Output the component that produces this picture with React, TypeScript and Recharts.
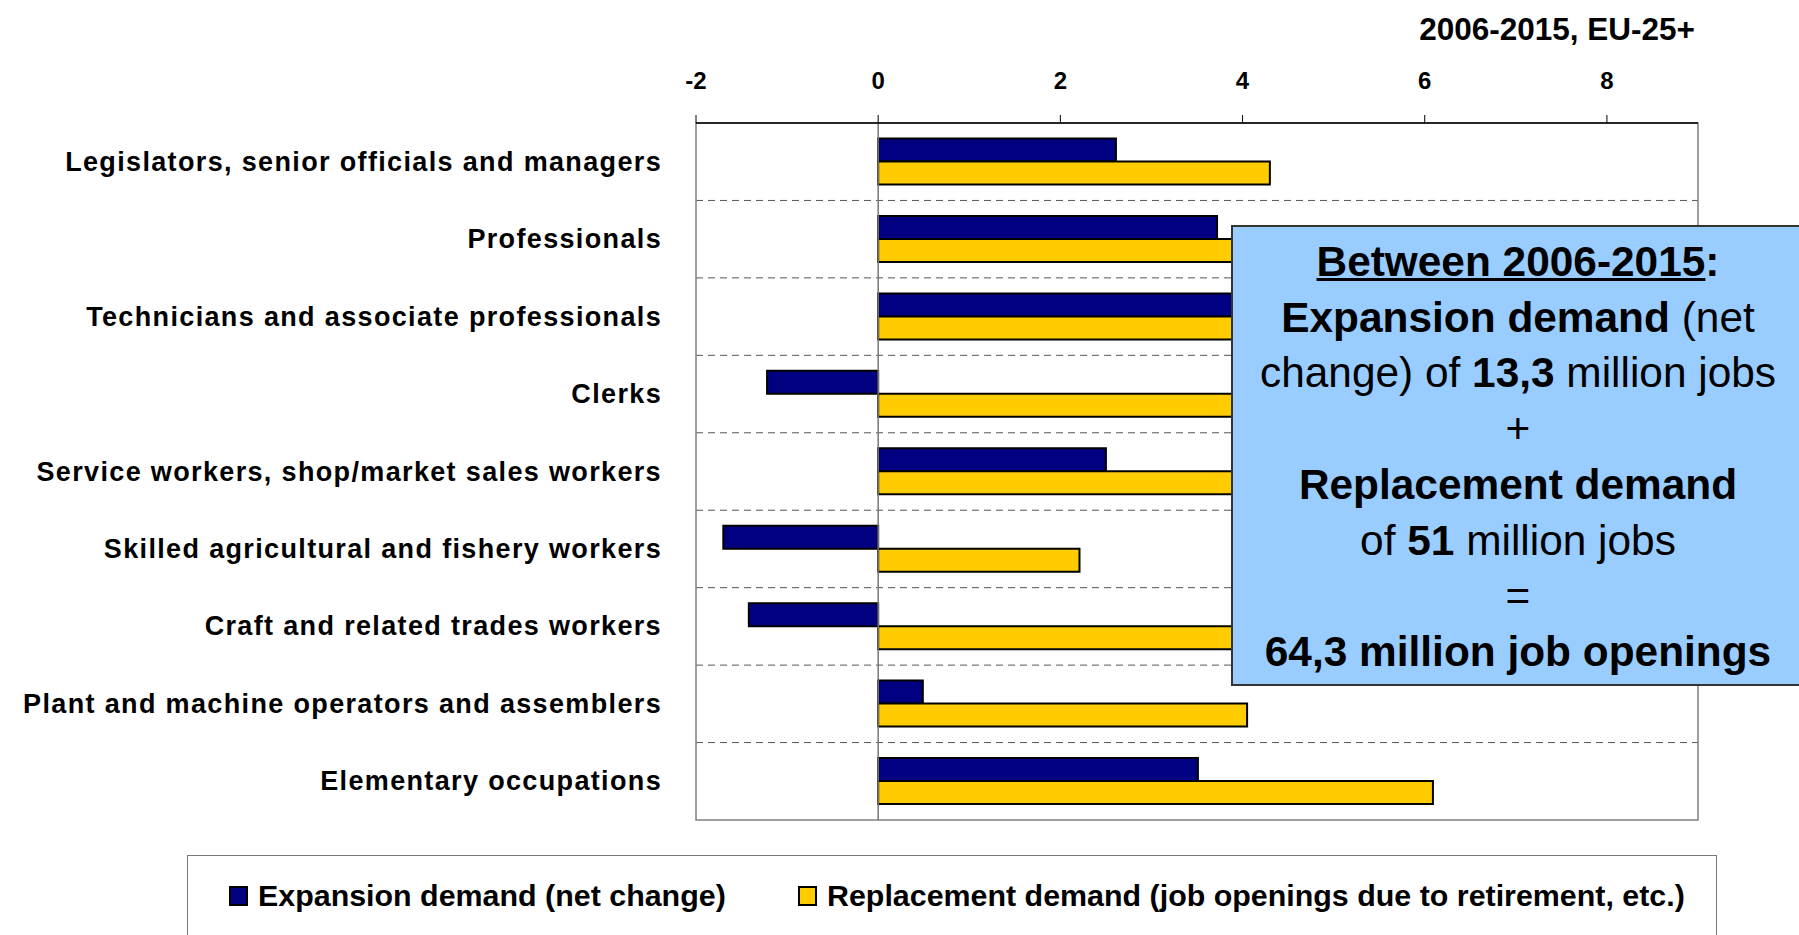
import React from "react";
import {
  BarChart,
  Bar,
  XAxis,
  YAxis,
  CartesianGrid,
  ReferenceLine,
  ReferenceArea,
  Legend,
} from "recharts";

// occupation groups, top to bottom
const occupations = [
  "Legislators, senior officials and managers",
  "Professionals",
  "Technicians and associate professionals",
  "Clerks",
  "Service workers, shop/market sales workers",
  "Skilled agricultural and fishery workers",
  "Craft and related trades workers",
  "Plant and machine operators and assemblers",
  "Elementary occupations",
];

// million jobs, 2006-2015
const expansionDemand = [2.61, 3.72, 4.8, -1.22, 2.5, -1.7, -1.42, 0.49, 3.51];
const replacementDemand = [4.3, 6.5, 7.2, 6.6, 7.3, 2.21, 6.75, 4.05, 6.09];

const xTicks = [-2, 0, 2, 4, 6, 8];

const seriesNames = {
  expansion: "Expansion demand (net change)",
  replacement: "Replacement demand (job openings due to retirement, etc.)",
};

const data = occupations.map((name, i) => ({
  name,
  expansion: expansionDemand[i],
  replacement: replacementDemand[i],
}));

const FONT = "'Liberation Sans', Arial, sans-serif";

const CategoryTick = (props: any) => {
  const { x, y, payload } = props;
  return (
    <text
      x={x}
      y={y}
      dy={9}
      textAnchor="end"
      fontFamily={FONT}
      fontWeight="bold"
      fontSize={27}
      letterSpacing={1.35}
      fill="#000"
    >
      {payload.value}
    </text>
  );
};

const LegendBox = (props: any) => {
  const items = props.payload || [];
  const offsets = [41, 610];
  return (
    <div
      style={{
        position: "relative",
        width: 1530,
        height: 100,
        border: "1.5px solid #777",
        boxSizing: "border-box",
        background: "#fff",
      }}
    >
      {items.map((it: any, i: number) => (
        <div
          key={it.value}
          style={{
            position: "absolute",
            left: offsets[i],
            top: 22,
            display: "flex",
            alignItems: "center",
            fontFamily: FONT,
            fontWeight: "bold",
            fontSize: 30.4,
            whiteSpace: "nowrap",
          }}
        >
          <span
            style={{
              display: "inline-block",
              width: 15,
              height: 16,
              background: it.color,
              border: "2px solid #000",
              marginRight: 10,
            }}
          />
          {it.value}
        </div>
      ))}
    </div>
  );
};

export default function App() {
  return (
    <div
      style={{
        position: "absolute",
        left: 0,
        top: 0,
        width: 1799,
        height: 935,
        overflow: "hidden",
        background: "#fff",
      }}
    >
      <BarChart
        width={1799}
        height={935}
        data={data}
        layout="vertical"
        margin={{ top: 63, right: 101, bottom: 115, left: 0 }}
        barCategoryGap="20%"
        barGap={0}
      >
        <CartesianGrid
          vertical={false}
          stroke="#555"
          strokeDasharray="7 5"
          horizontalCoordinatesGenerator={({ offset }: any) =>
            occupations
              .slice(1)
              .map((_, i) => offset.top + ((i + 1) * offset.height) / occupations.length)
          }
        />
        <ReferenceArea x1={-2} x2={9} fill="none" stroke="#808080" strokeWidth={1.5} />
        <ReferenceLine x={0} stroke="#777" strokeWidth={1.5} />
        <XAxis
          type="number"
          orientation="top"
          domain={[-2, 9]}
          ticks={xTicks}
          height={60}
          allowDataOverflow
          axisLine={{ stroke: "#000", strokeWidth: 1.5 }}
          tickLine={{ stroke: "#000" }}
          tickSize={8}
          tickMargin={26}
          tick={{ fontFamily: FONT, fontWeight: "bold", fontSize: 24, fill: "#000" }}
        />
        <YAxis
          type="category"
          dataKey="name"
          width={696}
          axisLine={false}
          tickLine={false}
          tickSize={0}
          tickMargin={34}
          interval={0}
          tick={<CategoryTick />}
        />
        <Bar
          dataKey="expansion"
          name={seriesNames.expansion}
          fill="#000080"
          stroke="#000"
          strokeWidth={2}
          isAnimationActive={false}
        />
        <Bar
          dataKey="replacement"
          name={seriesNames.replacement}
          fill="#FFCC00"
          stroke="#000"
          strokeWidth={2}
          isAnimationActive={false}
        />
        <Legend
          layout="horizontal"
          verticalAlign="middle"
          align="center"
          content={<LegendBox />}
          wrapperStyle={{ position: "absolute", left: 187, top: 855, width: 1530, height: 100 }}
        />
      </BarChart>

      <div
        style={{
          position: "absolute",
          right: 104,
          top: 11,
          fontFamily: FONT,
          fontWeight: "bold",
          fontSize: 31.5,
          color: "#000",
        }}
      >
        2006-2015, EU-25+
      </div>

      <div
        style={{
          position: "absolute",
          left: 1231,
          top: 225,
          width: 574,
          height: 461,
          boxSizing: "border-box",
          background: "#99CCFF",
          border: "2px solid #333",
          fontFamily: FONT,
          fontSize: 42.4,
          lineHeight: "55.7px",
          textAlign: "center",
          paddingTop: 7,
          color: "#000",
          whiteSpace: "nowrap",
        }}
      >
        <div>
          <b style={{ textDecoration: "underline", textDecorationThickness: 3 }}>Between 2006-2015</b>
          <b>:</b>
        </div>
        <div>
          <b>Expansion demand</b> (net
        </div>
        <div>
          change) of <b>13,3</b> million jobs
        </div>
        <div>+</div>
        <div>
          <b>Replacement demand</b>
        </div>
        <div>
          of <b>51</b> million jobs
        </div>
        <div>=</div>
        <div>
          <b>64,3 million job openings</b>
        </div>
      </div>
    </div>
  );
}
